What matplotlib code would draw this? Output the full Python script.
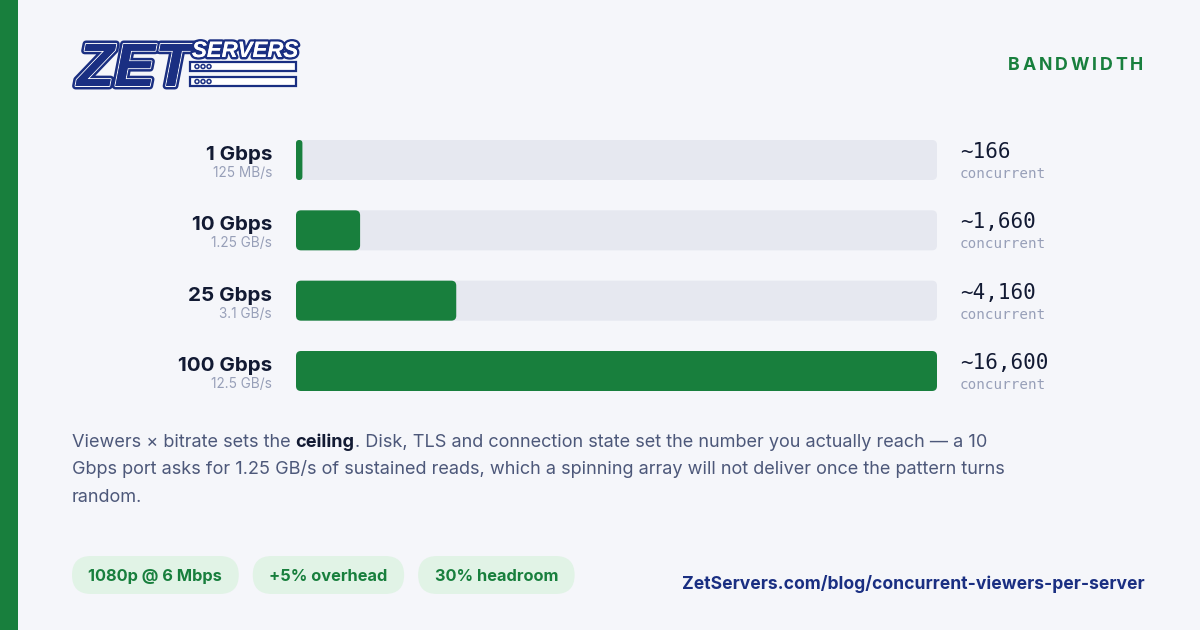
import matplotlib
matplotlib.use('Agg')
import matplotlib.pyplot as plt
from matplotlib import patches, transforms
from matplotlib import patheffects as pe

# 数据
speeds = ['1 Gbps', '10 Gbps', '25 Gbps', '100 Gbps']
gbps = [1, 10, 25, 100]
rates = ['125 MB/s', '1.25 GB/s', '3.1 GB/s', '12.5 GB/s']
viewers = ['~166', '~1,660', '~4,160', '~16,600']
pills = ['1080p @ 6 Mbps', '+5% overhead', '30% headroom']
title = 'BANDWIDTH'
url = 'ZetServers.com/blog/concurrent-viewers-per-server'
para = [
    [('Viewers × bitrate sets the', 'normal'), (' ', 'space'), ('ceiling', 'bold'),
     ('. Disk, TLS and connection state set the number you actually reach — a 10', 'normal')],
    [('Gbps port asks for 1.25 GB/s of sustained reads, which a spinning array will not deliver once the pattern turns', 'normal')],
    [('random.', 'normal')],
]

# 颜色
BG = '#f5f6fa'
GREEN = '#187f3d'
TRACK = '#e6e8f0'
DARK = '#121a33'
GREY = '#979fb8'
TEXT = '#4d587a'
NAVY = '#1a2f82'
PILL = '#e1f3e6'

W, H = 1200, 630
fig = plt.figure(figsize=(12, 6.3), dpi=100, facecolor=BG)
bg = fig.add_axes([0, 0, 1, 1])
bg.set_xlim(0, W)
bg.set_ylim(H, 0)
bg.axis('off')
bg.set_facecolor(BG)
renderer = fig.canvas.get_renderer()

bg.add_patch(patches.Rectangle((0, 0), 18, H, color=GREEN, lw=0))    # 左侧色条

# ---- logo ----
zet = bg.text(77, 86, 'ZET', family='Liberation Sans', weight='bold', style='italic',
              fontsize=44, color=NAVY, va='baseline', ha='left')
zet.set_path_effects([pe.withStroke(linewidth=5, foreground=NAVY),
                      pe.withStroke(linewidth=1.4, foreground='white'), pe.Normal()])
srv = bg.text(192, 57, 'SERVERS', family='Liberation Sans', weight='bold', style='italic',
              fontsize=16, color='white', va='baseline', ha='left')
srv.set_path_effects([pe.withStroke(linewidth=3.5, foreground=NAVY), pe.Normal()])
for yb in (62, 77):
    bg.add_patch(patches.Rectangle((190, yb), 106, 9, facecolor='white', edgecolor=NAVY, lw=1.6))
    for k in range(3):
        bg.add_patch(patches.Circle((197 + k * 6, yb + 4.5), 2, facecolor='white', edgecolor=NAVY, lw=1.1))

# ---- 标题 (字间距) ----
x = 1008
for ch in title:
    t = bg.text(x, 70, ch, fontsize=12.8, weight='bold', family='Inter', color=GREEN,
                ha='left', va='baseline')
    x += t.get_window_extent(renderer).width + 2.8

# ---- 条形图 ----
slot = 70.33
half = 20 / slot
ax = fig.add_axes([296 / W, (H - 391) / H, 641 / W, 251 / H])
ax.set_xlim(0, 100)
ax.set_ylim(len(gbps) - 1 + half, -half)
ax.axis('off')
xpx = 100 / 641          # 每像素的x数据单位
ypx = 1 / slot           # 每像素的y数据单位
aspect = ypx / xpx


def rbar(y, w, color):    # 圆角条形
    r = min(5 * xpx, w / 2)
    ax.add_patch(patches.FancyBboxPatch((0, y - half), w, 2 * half,
                                        boxstyle='round,pad=0,rounding_size=%f' % r,
                                        mutation_aspect=aspect, facecolor=color, lw=0))


trans = transforms.blended_transform_factory(bg.transData, ax.transData)
for i, v in enumerate(gbps):
    rbar(i, 100, TRACK)
    rbar(i, v, GREEN)
    ax.text(272, i, speeds[i], transform=trans, ha='right', va='baseline',
            fontsize=14.8, weight='bold', family='Inter', color=DARK)
    ax.text(272, i + 17 * ypx, rates[i], transform=trans, ha='right', va='baseline',
            fontsize=9.8, family='Inter', color=GREY)
    ax.text(960, i - 2 * ypx, viewers[i], transform=trans, ha='left', va='baseline',
            fontsize=15, family='DejaVu Sans Mono', color=DARK)
    ax.text(960, i + 18 * ypx, 'concurrent', transform=trans, ha='left', va='baseline',
            fontsize=10.3, family='DejaVu Sans Mono', color=GREY)

# ---- 段落 ----
pfs = 13.05
t1 = bg.text(0, 0, 'a a', fontsize=pfs, family='Inter')
t2 = bg.text(0, 0, 'aa', fontsize=pfs, family='Inter')
space = t1.get_window_extent(renderer).width - t2.get_window_extent(renderer).width
t1.remove()
t2.remove()
for li, runs in enumerate(para):
    x = 72
    y = 447 + li * 27.5
    for s, kind in runs:
        if kind == 'space':
            x += space
            continue
        t = bg.text(x, y, s, fontsize=pfs, family='Inter', ha='left', va='baseline',
                    weight='bold' if kind == 'bold' else 'normal',
                    color=DARK if kind == 'bold' else TEXT)
        x += t.get_window_extent(renderer).width

# ---- 标签 ----
x = 72
for s in pills:
    t = bg.text(0, 575, s, fontsize=11.8, weight='bold', family='Inter', color=GREEN,
                ha='center', va='center_baseline')
    w = t.get_window_extent(renderer).width + 33
    bg.add_patch(patches.FancyBboxPatch((x, 556), w, 38, boxstyle='round,pad=0,rounding_size=19',
                                        facecolor=PILL, lw=0, zorder=1))
    t.set_x(x + w / 2)
    t.set_zorder(2)
    x += w + 14

bg.text(1145, 589, url, fontsize=12.6, weight='bold', family='Inter', color=NAVY,
        ha='right', va='baseline')

fig.savefig('out.png', dpi=100, facecolor=BG)
